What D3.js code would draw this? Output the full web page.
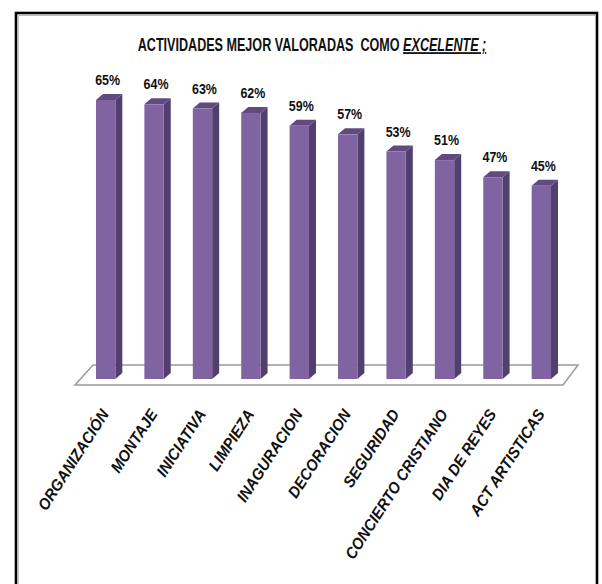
<!DOCTYPE html>
<html><head><meta charset="utf-8">
<script src="https://cdn.jsdelivr.net/npm/d3@7"></script>
<style>body{margin:0;background:#fff;}svg{display:block;}text{white-space:pre;}</style>
</head><body>
<svg id="c" width="602" height="584"></svg>
<script>
const categories = ["ORGANIZACIÓN","MONTAJE","INICIATIVA","LIMPIEZA","INAGURACION","DECORACION","SEGURIDAD","CONCIERTO CRISTIANO","DIA DE REYES","ACT ARTISTICAS"];
const values = [65,64,63,62,59,57,53,51,47,45];
const valueLabels = ["65%","64%","63%","62%","59%","57%","53%","51%","47%","45%"];

const svg = d3.select("#c");
const W = 602, H = 584;
const font = "'Liberation Sans',Arial,sans-serif";

// frame
svg.append("rect").attr("x",16).attr("y",13).attr("width",581).attr("height",H).attr("fill","#fff").attr("stroke","#000").attr("stroke-width",2.6);
svg.append("line").attr("x1",18).attr("x2",595).attr("y1",15.5).attr("y2",15.5).attr("stroke","#bbb").attr("stroke-width",1);
svg.append("line").attr("x1",18.5).attr("x2",18.5).attr("y1",15).attr("y2",H).attr("stroke","#ccc").attr("stroke-width",1);

// title
const tg = svg.append("g");
const t = tg.append("text").attr("x",0).attr("y",0).attr("text-anchor","middle")
  .attr("font-family",font).attr("font-weight","bold").attr("font-size",18).attr("fill","#111");
t.append("tspan").text("ACTIVIDADES MEJOR VALORADAS  COMO ");
t.append("tspan").attr("font-style","italic").attr("text-decoration","underline").text("EXCELENTE ;");
const tl = t.node().getComputedTextLength();
tg.attr("transform",`translate(312,51) scale(${349/tl},1)`);

// scales
const base = 379;
const x = d3.scaleBand().domain(categories).range([80,567]).paddingInner(0.6).paddingOuter(0.33);
const y = d3.scaleLinear().domain([0,65]).range([base,100]);
const depth = 7, rise = 6;

// floor
const fl = [[75,385],[93,365],[578,365],[563,385]];
svg.append("path").attr("d","M"+fl.map(p=>p.join(",")).join("L")+"Z")
  .attr("fill","#fff").attr("stroke","#9a9a9a").attr("stroke-width",1.5);

const g = svg.append("g");
categories.forEach((c,i)=>{
  const x0 = x(c), w = x.bandwidth(), yt = y(values[i]);
  g.append("path").attr("d",`M${x0+w},${yt}L${x0+w+depth},${yt-rise}L${x0+w+depth},${base-rise}L${x0+w},${base}Z`).attr("fill","#533f6d");
  g.append("path").attr("d",`M${x0},${yt}L${x0+depth},${yt-rise}L${x0+w+depth},${yt-rise}L${x0+w},${yt}Z`).attr("fill","#604a80");
  g.append("rect").attr("x",x0).attr("y",yt).attr("width",w).attr("height",base-yt).attr("fill","#8064a2");
  g.append("text").attr("transform",`translate(${x0+w/2+2},${yt-15}) scale(0.83,1)`).attr("text-anchor","middle")
    .attr("font-family",font).attr("font-weight","bold").attr("font-size",15).attr("fill","#111").text(valueLabels[i]);
  const cx = x0+w/2+4, cy = 414;
  g.append("text").attr("transform",`translate(${cx},${cy}) rotate(-57) scale(0.93,1)`).attr("text-anchor","end")
    .attr("font-family",font).attr("font-weight","bold").attr("font-style","italic").attr("font-size",16).attr("fill","#111").text(c);
});
</script>
</body></html>
